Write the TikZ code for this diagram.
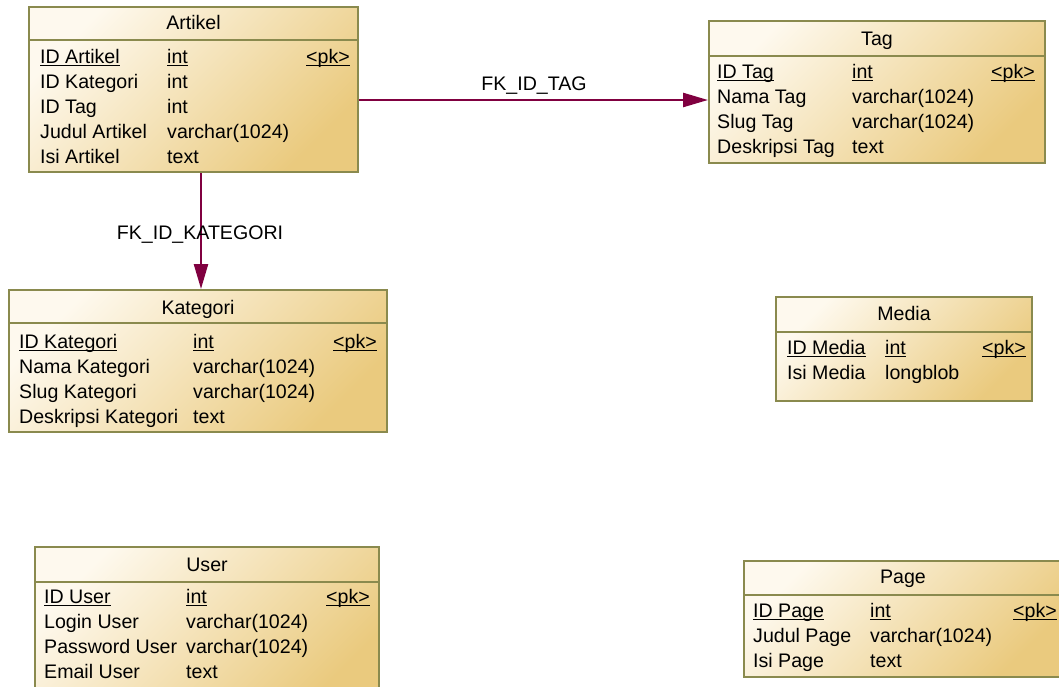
\documentclass[tikz,border=0pt]{standalone}
\usepackage{fontspec}
\setmainfont{Liberation Sans}
\usetikzlibrary{arrows.meta}

\definecolor{creamtop}{RGB}{254,249,238}
\definecolor{tanbottom}{RGB}{234,202,126}
\definecolor{olive}{RGB}{138,138,78}
\definecolor{fkline}{RGB}{128,0,64}

% underlined primary-key text, rule sits just under the baseline
\newcommand\pkul[1]{\setbox0\hbox{#1}\rlap{\rule[-2.8pt]{\wd0}{1.3pt}}\box0}

\tikzset{
  tablebox/.style={draw=olive, line width=2pt, top color=creamtop,
    bottom color=tanbottom, shading angle=45, inner sep=0pt},
  divider/.style={draw=olive, line width=2pt},
  cell/.style={anchor=base west, inner sep=0pt, font=\fontsize{19.6}{24}\selectfont},
  caption/.style={anchor=base, inner sep=0pt, font=\fontsize{19.6}{24}\selectfont},
  fk/.style={draw=fkline, line width=2.4pt, -{Triangle[length=25pt,width=14pt]}},
  fklabel/.style={anchor=base, inner sep=0pt, font=\fontsize{19.6}{24}\selectfont}
}

\begin{document}
\begin{tikzpicture}[x=1pt,y=-1pt]
\clip (0,0) rectangle (1059,686);
\fill[white] (0,0) rectangle (1059,686);

% ---------- Artikel ----------
\node[tablebox, minimum width=329pt, minimum height=165pt] (artikel) at (193.5,89.5) {};
\draw[divider] (artikel.west |- 0,40) -- (artikel.east |- 0,40);
\node[caption] (artikel-t) at (193.5,29) {Artikel};
\node[cell] (artikel-n1) at (40,63)  {\pkul{ID Artikel}};
\node[cell] (artikel-y1) at (167,63) {\pkul{int}};
\node[cell] (artikel-k1) at (306,63) {\pkul{<pk>}};
\node[cell] (artikel-n2) at (40,88)  {ID Kategori};
\node[cell] (artikel-y2) at (167,88) {int};
\node[cell] (artikel-n3) at (40,113)  {ID Tag};
\node[cell] (artikel-y3) at (167,113) {int};
\node[cell] (artikel-n4) at (40,138)  {Judul Artikel};
\node[cell] (artikel-y4) at (167,138) {varchar(1024)};
\node[cell] (artikel-n5) at (40,163)  {Isi Artikel};
\node[cell] (artikel-y5) at (167,163) {text};

% ---------- Tag ----------
\node[tablebox, minimum width=336pt, minimum height=142pt] (tag) at (877,92) {};
\draw[divider] (tag.west |- 0,56) -- (tag.east |- 0,56);
\node[caption] (tag-t) at (877,45) {Tag};
\node[cell] (tag-n1) at (717,78) {\pkul{ID Tag}};
\node[cell] (tag-y1) at (852,78) {\pkul{int}};
\node[cell] (tag-k1) at (991,78) {\pkul{<pk>}};
\node[cell] (tag-n2) at (717,103) {Nama Tag};
\node[cell] (tag-y2) at (852,103) {varchar(1024)};
\node[cell] (tag-n3) at (717,128) {Slug Tag};
\node[cell] (tag-y3) at (852,128) {varchar(1024)};
\node[cell] (tag-n4) at (717,153) {Deskripsi Tag};
\node[cell] (tag-y4) at (852,153) {text};

% ---------- Kategori ----------
\node[tablebox, minimum width=378pt, minimum height=142pt] (kategori) at (198,361) {};
\draw[divider] (kategori.west |- 0,323) -- (kategori.east |- 0,323);
\node[caption] (kategori-t) at (198,314) {Kategori};
\node[cell] (kategori-n1) at (19,348)  {\pkul{ID Kategori}};
\node[cell] (kategori-y1) at (193,348) {\pkul{int}};
\node[cell] (kategori-k1) at (333,348) {\pkul{<pk>}};
\node[cell] (kategori-n2) at (19,373)  {Nama Kategori};
\node[cell] (kategori-y2) at (193,373) {varchar(1024)};
\node[cell] (kategori-n3) at (19,398)  {Slug Kategori};
\node[cell] (kategori-y3) at (193,398) {varchar(1024)};
\node[cell] (kategori-n4) at (19,423)  {Deskripsi Kategori};
\node[cell] (kategori-y4) at (193,423) {text};

% ---------- Media ----------
\node[tablebox, minimum width=256pt, minimum height=104pt] (media) at (904,349) {};
\draw[divider] (media.west |- 0,332) -- (media.east |- 0,332);
\node[caption] (media-t) at (904,320) {Media};
\node[cell] (media-n1) at (787,354) {\pkul{ID Media}};
\node[cell] (media-y1) at (885,354) {\pkul{int}};
\node[cell] (media-k1) at (982,354) {\pkul{<pk>}};
\node[cell] (media-n2) at (787,379) {Isi Media};
\node[cell] (media-y2) at (885,379) {longblob};

% ---------- User ----------
\node[tablebox, minimum width=344pt, minimum height=160pt] (user) at (207,627) {};
\draw[divider] (user.west |- 0,582) -- (user.east |- 0,582);
\node[caption] (user-t) at (207,571) {User};
\node[cell] (user-n1) at (44,603)  {\pkul{ID User}};
\node[cell] (user-y1) at (186,603) {\pkul{int}};
\node[cell] (user-k1) at (326,603) {\pkul{<pk>}};
\node[cell] (user-n2) at (44,628)  {Login User};
\node[cell] (user-y2) at (186,628) {varchar(1024)};
\node[cell] (user-n3) at (44,653)  {Password User};
\node[cell] (user-y3) at (186,653) {varchar(1024)};
\node[cell] (user-n4) at (44,678)  {Email User};
\node[cell] (user-y4) at (186,678) {text};

% ---------- Page ----------
\node[tablebox, minimum width=318pt, minimum height=116pt] (page) at (903,619) {};
\draw[divider] (page.west |- 0,595) -- (page.east |- 0,595);
\node[caption] (page-t) at (903,583) {Page};
\node[cell] (page-n1) at (753,617)  {\pkul{ID Page}};
\node[cell] (page-y1) at (870,617)  {\pkul{int}};
\node[cell] (page-k1) at (1013,617) {\pkul{<pk>}};
\node[cell] (page-n2) at (753,642)  {Judul Page};
\node[cell] (page-y2) at (870,642)  {varchar(1024)};
\node[cell] (page-n3) at (753,667)  {Isi Page};
\node[cell] (page-y3) at (870,667)  {text};

% ---------- foreign keys ----------
\draw[fk] (artikel.east |- 0,100) -- (tag.west |- 0,100);
\node[fklabel] (fk-tag) at (534,90) {FK\_ID\_TAG};
\draw[fk] (artikel.south -| 201,0) -- (kategori.north -| 201,0);
\node[fklabel] (fk-kategori) at (200,239) {FK\_ID\_KATEGORI};
\end{tikzpicture}
\end{document}
